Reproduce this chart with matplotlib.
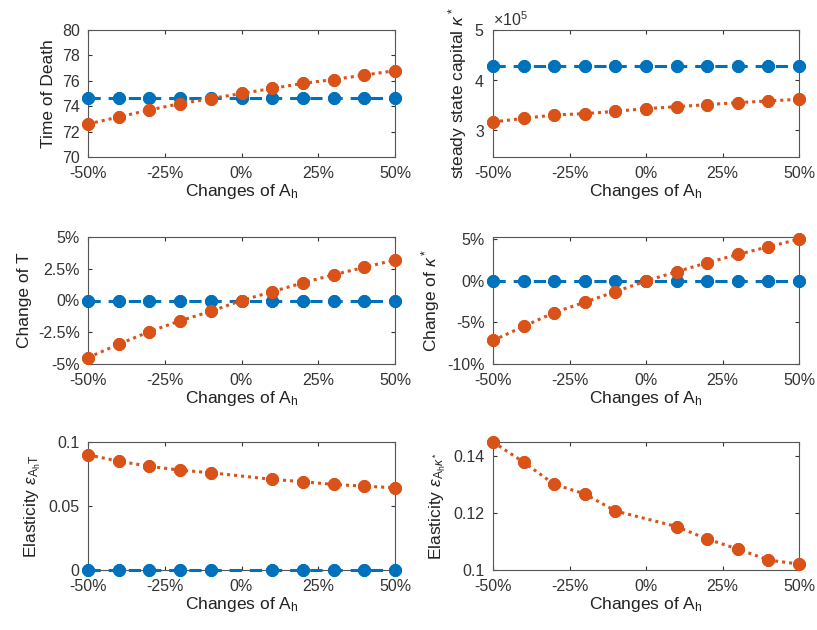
"""Sensitivity of death time and steady-state capital to changes of A_h."""

import matplotlib

matplotlib.use("Agg")
import matplotlib.pyplot as plt
from matplotlib.ticker import ScalarFormatter

# changes of A_h (%)
changes = [-50, -40, -30, -20, -10, 0, 10, 20, 30, 40, 50]
changes_el = [-50, -40, -30, -20, -10, 10, 20, 30, 40, 50]  # elasticity undefined at 0

# time of death
death_base = [74.65] * 11
death_alt = [72.6, 73.15, 73.7, 74.2, 74.6, 75.0, 75.4, 75.8, 76.1, 76.45, 76.8]

# steady state capital
kappa_base = [4.28e5] * 11
kappa_alt = [3.167e5, 3.24e5, 3.307e5, 3.333e5, 3.38e5, 3.433e5,
             3.473e5, 3.513e5, 3.553e5, 3.587e5, 3.62e5]

# changes (%)
dT_base = [0.0] * 11
dT_alt = [-4.5, -3.44, -2.45, -1.6, -0.85, 0.0, 0.69, 1.39, 2.03, 2.61, 3.2]
dK_base = [0.0] * 11
dK_alt = [-7.16, -5.48, -3.8, -2.56, -1.28, 0.0, 1.12, 2.2, 3.2, 4.12, 5.04]

# elasticities
elT_base = [0.0] * 10
elT_alt = [0.09, 0.085, 0.081, 0.078, 0.076, 0.0708, 0.069, 0.0668, 0.0655, 0.0642]
elK_base = [0.0] * 10
elK_alt = [0.1451, 0.138, 0.1302, 0.1268, 0.1208, 0.1153, 0.1109, 0.1074, 0.1035, 0.1021]

BLUE = "#0072BD"
ORANGE = "#D95319"

plt.rcParams.update(
    {
        "font.family": ["Liberation Sans", "DejaVu Sans"],
        "mathtext.fontset": "custom",
        "mathtext.rm": "Liberation Sans",
        "mathtext.it": "Liberation Sans:italic",
        "mathtext.bf": "Liberation Sans:bold",
        "axes.unicode_minus": False,
        "font.size": 11,
        "axes.edgecolor": "#555555",
        "axes.linewidth": 0.8,
        "xtick.color": "#333333",
        "ytick.color": "#333333",
        "text.color": "#222222",
        "axes.labelcolor": "#222222",
    }
)

W, H = 817, 630
fig = plt.figure(figsize=(W / 100, H / 100), dpi=100)


def make_ax(left, right, top, bottom):
    return fig.add_axes([left / W, 1 - bottom / H, (right - left) / W, (bottom - top) / H])


ASTER = (8, 2, 0)


def draw(ax, x, yb, ya):
    ax.plot(x, yb, linestyle=(0, (4, 2.6)), color=BLUE, lw=2.2,
            marker=ASTER, ms=9, mew=3, mec=BLUE, mfc=BLUE, zorder=3)
    ax.plot(x, ya, linestyle=(0, (1, 1.3)), color=ORANGE, lw=2.2,
            marker=ASTER, ms=9, mew=3, mec=ORANGE, mfc=ORANGE, zorder=4)


def style(ax):
    ax.set_xlim(-50, 50)
    ax.set_xticks([-50, -25, 0, 25, 50])
    ax.set_xticklabels(["-50%", "-25%", "0%", "25%", "50%"])
    ax.tick_params(direction="in", length=3, top=True, right=True, labelsize=11.5)
    ax.tick_params(axis="x", pad=6.5)
    ax.tick_params(axis="y", pad=6)
    ax.set_xlabel(r"Changes of A$_\mathrm{h}$", fontsize=12.5, labelpad=1)


cols = [(88, 395), (493, 799)]
rows = [(30, 157), (237, 364), (442, 570)]

# row 1
ax = make_ax(*cols[0], *rows[0])
draw(ax, changes, death_base, death_alt)
style(ax)
ax.set_ylim(70, 80)
ax.set_yticks([70, 72, 74, 76, 78, 80])
ax.set_ylabel("Time of Death", fontsize=12.5)

ax = make_ax(*cols[1], *rows[0])
draw(ax, changes, kappa_base, kappa_alt)
style(ax)
ax.set_ylim(2.47e5, 5e5)
ax.set_yticks([3e5, 4e5, 5e5])
fmt = ScalarFormatter(useMathText=True)
fmt.set_powerlimits((0, 0))
ax.yaxis.set_major_formatter(fmt)
ax.yaxis.get_offset_text().set_fontsize(11.5)
ax.set_ylabel(r"steady state capital $\kappa^*$", fontsize=12.5)

# row 2
ax = make_ax(*cols[0], *rows[1])
draw(ax, changes, dT_base, dT_alt)
style(ax)
ax.set_ylim(-5, 5)
ax.set_yticks([-5, -2.5, 0, 2.5, 5])
ax.set_yticklabels(["-5%", "-2.5%", "0%", "2.5%", "5%"])
ax.set_ylabel("Change of T", fontsize=12.5)

ax = make_ax(*cols[1], *rows[1])
draw(ax, changes, dK_base, dK_alt)
style(ax)
ax.set_ylim(-10, 5.3)
ax.set_yticks([-10, -5, 0, 5])
ax.set_yticklabels(["-10%", "-5%", "0%", "5%"])
ax.set_ylabel(r"Change of $\kappa^*$", fontsize=12.5)

# row 3
ax = make_ax(*cols[0], *rows[2])
draw(ax, changes_el, elT_base, elT_alt)
style(ax)
ax.set_ylim(0, 0.1)
ax.set_yticks([0, 0.05, 0.1])
ax.set_yticklabels(["0", "0.05", "0.1"])
ax.set_ylabel(r"Elasticity $\epsilon_{\mathrm{A}_\mathrm{h}\mathrm{T}}$", fontsize=12.5)

ax = make_ax(*cols[1], *rows[2])
draw(ax, changes_el, elK_base, elK_alt)
style(ax)
ax.set_ylim(0.1, 0.1451)
ax.set_yticks([0.1, 0.12, 0.14])
ax.set_yticklabels(["0.1", "0.12", "0.14"])
ax.set_ylabel(r"Elasticity $\epsilon_{\mathrm{A}_\mathrm{h}\kappa^*}$", fontsize=12.5)

# markers may overhang the box, except where the zero line lies outside the range
for a in fig.axes[:-1]:
    for ln in a.lines:
        ln.set_clip_on(False)
fig.axes[-1].lines[1].set_clip_on(False)

fig.savefig("out.png", dpi=100)
